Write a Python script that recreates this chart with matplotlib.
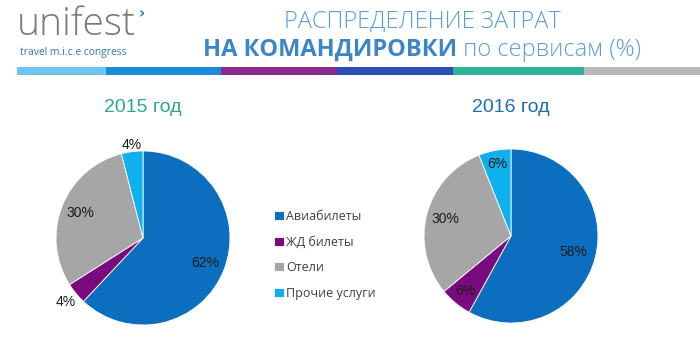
import matplotlib
matplotlib.use("Agg")
import matplotlib.pyplot as plt
import numpy as np

categories = ["Авиабилеты", "ЖД билеты", "Отели", "Прочие услуги"]
values_2015 = [62, 4, 30, 4]
values_2016 = [58, 6, 30, 6]
years = ["2015 год", "2016 год"]

colors = ["#0B6EBE", "#7A0B7E", "#A6A6A6", "#0FB0EE"]
W, H = 700, 353

fig = plt.figure(figsize=(7.0, 3.53), dpi=100)
ax = fig.add_axes([0, 0, 1, 1])

def Y(y):
    return H - y

# header colour bar
bar_edges = [17, 106, 221, 337, 453, 584, 700]
bar_cols = ["#6DC6EE", "#1B8BD9", "#8B2A8C", "#2C4DB4", "#2CB39A", "#B8B8B8"]
for i, c in enumerate(bar_cols):
    ax.fill_between([bar_edges[i], bar_edges[i + 1]], Y(75), Y(67), color=c, lw=0)

# logo
ax.text(17, Y(35), "unifest", fontsize=28, family="Open Sans", fontweight="light",
        color="#7A7A7A", ha="left", va="baseline")
ax.text(139, Y(14), "›", fontsize=11, family="DejaVu Sans", fontweight="bold",
        color="#2F78BE", ha="left", va="center")
ax.text(20, Y(55), "travel m.i.c.e congress", fontsize=7.4, family="Open Sans",
        color="#3474B5", ha="left", va="baseline")

# title
ax.text(422, Y(27), "РАСПРЕДЕЛЕНИЕ ЗАТРАТ", fontsize=17, family="Open Sans",
        fontweight="light", color="#5C9FD6", ha="center", va="baseline")
t1 = ax.text(0, Y(56), "НА КОМАНДИРОВКИ", fontsize=17, family="Open Sans",
             fontweight="bold", color="#3C86C8", ha="left", va="baseline")
t2 = ax.text(0, Y(56), " по сервисам (%)", fontsize=17, family="Open Sans",
             fontweight="light", color="#5C9FD6", ha="left", va="baseline")

# pies
pie_specs = [
    (values_2015, (143, Y(238)), "#2BA98A", [0.77, 1.15, 0.78, 1.08]),
    (values_2016, (511, Y(236)), "#1F6CB0", [0.74, 0.82, 0.78, 0.84]),
]
R = 87
wedges_ref = None
for (vals, center, tcol, dists), yr in zip(pie_specs, years):
    wedges, _ = ax.pie(vals, colors=colors, startangle=90, counterclock=False,
                       center=center, radius=R,
                       wedgeprops=dict(edgecolor="white", linewidth=0.6))
    if wedges_ref is None:
        wedges_ref = wedges
    for w, v, d in zip(wedges, vals, dists):
        ang = np.deg2rad((w.theta1 + w.theta2) / 2)
        ax.text(center[0] + d * R * np.cos(ang), center[1] + d * R * np.sin(ang),
                f"{v}%", fontsize=10, family="Liberation Sans", color="#1A1A1A",
                ha="center", va="center")
    ax.text(center[0], Y(107), yr, fontsize=14, family="Liberation Sans",
            color=tcol, ha="center", va="center")

ax.set_xlim(0, W)
ax.set_ylim(0, H)
ax.set_aspect("auto")
ax.axis("off")

leg = ax.legend(wedges_ref, categories, loc="upper left",
                bbox_to_anchor=(263 / W, 1 - 199 / H), frameon=False,
                prop={"family": "Open Sans", "size": 9}, labelcolor="#404040",
                handlelength=0.75, handleheight=0.75, handletextpad=0.2,
                labelspacing=1.0)

# position the two-part title line, centred
fig.canvas.draw()
r = fig.canvas.get_renderer()
w1 = t1.get_window_extent(r).width
w2 = t2.get_window_extent(r).width
x0 = 422 - (w1 + w2) / 2
t1.set_x(x0)
t2.set_x(x0 + w1)

fig.savefig("out.png", dpi=100)
